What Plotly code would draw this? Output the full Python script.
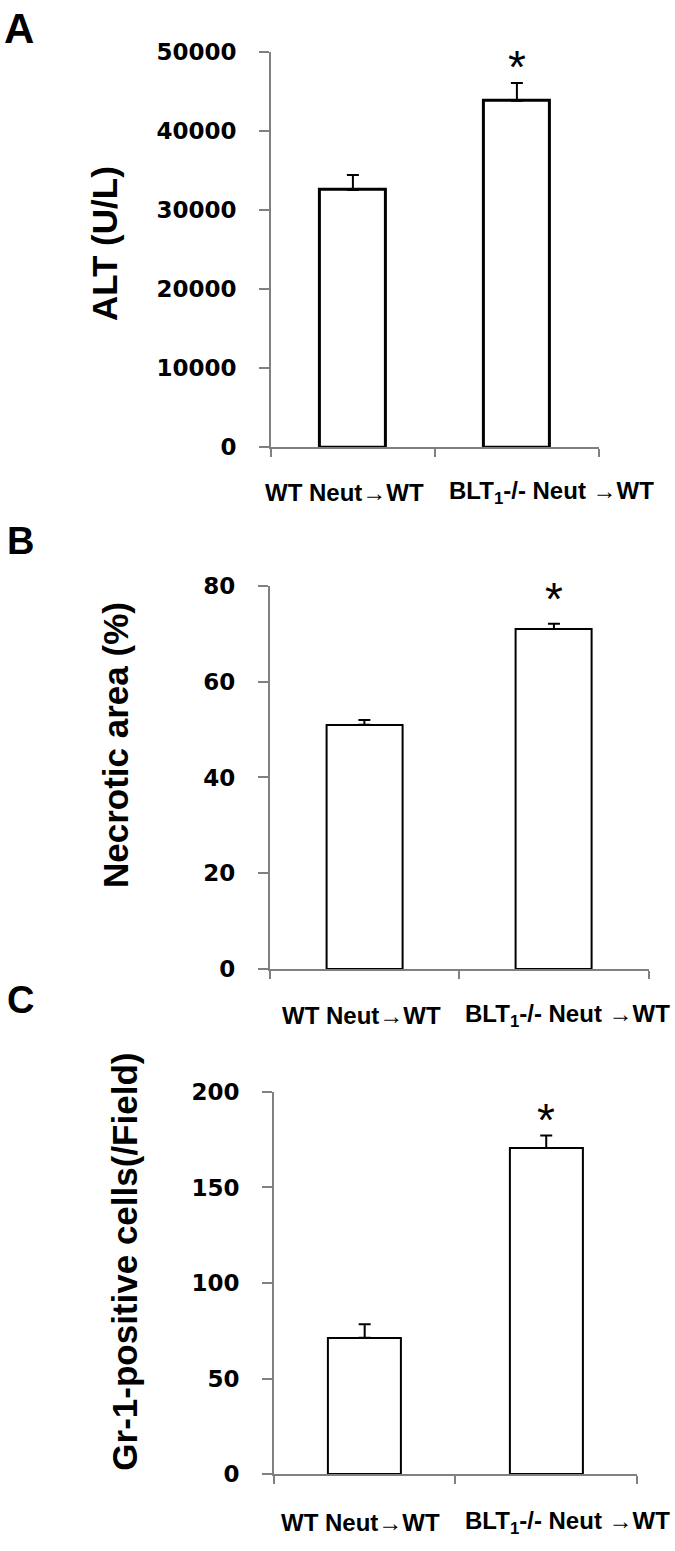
import plotly.graph_objects as go

# ---- data ----
categories = ["WT Neut→WT", "BLT<sub>1</sub>-/- Neut →WT"]

alt_values = [32500, 43800]
alt_errors = [1900, 2250]

necrotic_values = [51, 71]
necrotic_errors = [1.0, 1.1]

gr1_values = [71.4, 170.7]
gr1_errors = [7.0, 6.5]

y_ticks_a = [0, 10000, 20000, 30000, 40000, 50000]
y_ticks_b = [0, 20, 40, 60, 80]
y_ticks_c = [0, 50, 100, 150, 200]

titles = ["ALT (U/L)", "Necrotic area (%)", "Gr-1-positive cells(/Field)"]
panel_letters = ["A", "B", "C"]
significance = "*"

# ---- layout helpers ----
W, H = 675, 1551
FONT = "Liberation Sans, Arial, sans-serif"
TICKFONT = "DejaVu Sans, Liberation Sans, sans-serif"


def px_x(p):
    return p / W


def px_y(p):
    return 1 - p / H


panels = [
    dict(values=alt_values, errors=alt_errors, ticks=y_ticks_a, rng=[0, 50000],
         x0=270.9, x1=598.9, ytop=39.3, ybot=441.7, barline=3,
         title_x=104, title_y=235, label_y=488, label_shift=[-8, 35],
         letter_x=2, letter_y=16, letter_size=42, star_y=46.7),
    dict(values=necrotic_values, errors=necrotic_errors, ticks=y_ticks_b, rng=[0, 80],
         x0=269.6, x1=648.7, ytop=582.7, ybot=972.3, barline=2,
         title_x=115.5, title_y=745, label_y=1020, label_shift=[-2.5, 14],
         letter_x=5, letter_y=537.5, letter_size=38, star_y=588),
    dict(values=gr1_values, errors=gr1_errors, ticks=y_ticks_c, rng=[0, 200],
         x0=273.9, x1=637, ytop=1097.3, ybot=1486, barline=2,
         title_x=125, title_y=1270, label_y=1535, label_shift=[-4.5, 21],
         letter_x=5, letter_y=1003.5, letter_size=38, star_y=1118),
]

fig = go.Figure()
annotations = []

for i, p in enumerate(panels):
    n = "" if i == 0 else str(i + 1)
    xa = "x" + n
    ya = "y" + n
    fig.add_trace(go.Bar(
        x=[0, 1], y=p["values"], width=0.4,
        marker=dict(color="white", line=dict(color="black", width=p["barline"])),
        error_y=dict(type="data", symmetric=False, array=p["errors"],
                     arrayminus=[0, 0], color="black", thickness=2, width=6),
        xaxis=xa, yaxis=ya, showlegend=False, hoverinfo="skip",
    ))
    axis_common = dict(showgrid=False, zeroline=False, showline=True,
                       linecolor="#808080", linewidth=1.5,
                       ticks="outside", tickcolor="#808080", tickwidth=1.5,
                       fixedrange=True)
    fig.layout["xaxis" + n] = dict(
        domain=[px_x(p["x0"]), px_x(p["x1"])], anchor=ya,
        range=[-0.5, 1.5], tickvals=[-0.5, 0.5, 1.5], showticklabels=False,
        ticklen=8, **axis_common)
    fig.layout["yaxis" + n] = dict(
        domain=[px_y(p["ybot"]), px_y(p["ytop"])], anchor=xa,
        range=p["rng"], tickvals=p["ticks"], tickformat="d", ticklen=10,
        tickfont=dict(family=TICKFONT, size=23, color="black", weight="bold"),
        ticklabelstandoff=18, **axis_common)

    # y title
    annotations.append(dict(
        text="<b>" + titles[i] + "</b>", textangle=-90,
        x=px_x(p["title_x"]), y=px_y(p["title_y"]), xref="paper", yref="paper",
        xanchor="center", yanchor="middle", showarrow=False,
        font=dict(family=FONT, size=35, color="black")))
    # category labels
    for j, cat in enumerate(categories):
        annotations.append(dict(
            text="<b>" + cat + "</b>", x=j, y=px_y(p["label_y"]),
            xref=xa, yref="paper", xanchor="center", yanchor="middle",
            xshift=p["label_shift"][j], showarrow=False,
            font=dict(family=FONT, size=24, color="black")))
    # significance star
    annotations.append(dict(
        text=significance, x=1, y=px_y(p["star_y"] + 8), xref=xa, yref="paper",
        xanchor="center", yanchor="middle", showarrow=False,
        font=dict(family=FONT, size=46, color="black")))
    # panel letter
    annotations.append(dict(
        text="<b>" + panel_letters[i] + "</b>", x=px_x(p["letter_x"]), y=px_y(p["letter_y"]),
        xref="paper", yref="paper", xanchor="left", yanchor="middle",
        showarrow=False, font=dict(family=FONT, size=p["letter_size"], color="black")))

fig.update_layout(
    width=W, height=H, margin=dict(l=0, r=0, t=0, b=0),
    paper_bgcolor="white", plot_bgcolor="white",
    annotations=annotations, bargap=0,
)

fig.write_html("out.html", config={"displayModeBar": False},
               post_script="document.body.style.margin='0';")
